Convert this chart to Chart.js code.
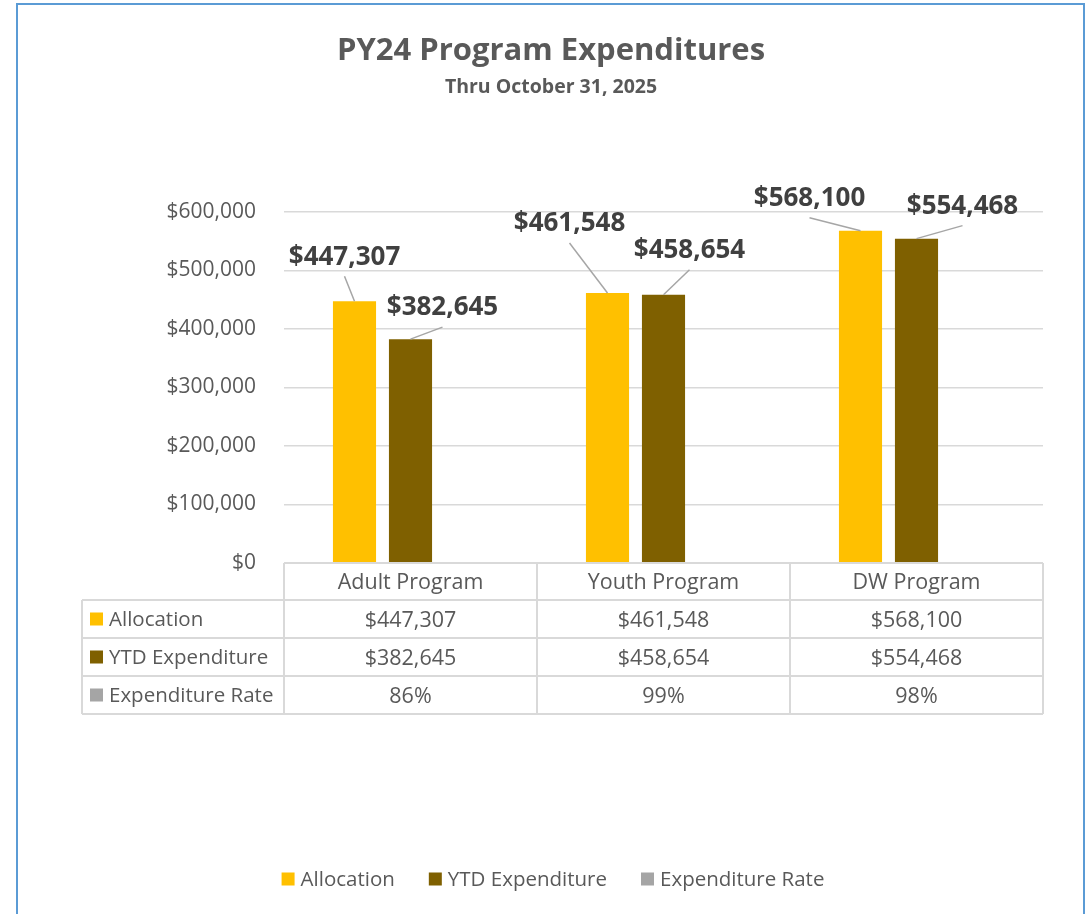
<!DOCTYPE html>
<html><head><meta charset="utf-8">
<script src="https://cdn.jsdelivr.net/npm/chart.js@4.4.1/dist/chart.umd.min.js"></script>
<style>html,body{margin:0;padding:0;background:#fff;}canvas{display:block;}</style>
</head><body>
<canvas id="c" width="1089" height="914"></canvas>
<script>
// ---- data ----
const categories = ['Adult Program', 'Youth Program', 'DW Program'];
const allocation = [447307, 461548, 568100];
const ytdExpenditure = [382645, 458654, 554468];
const expenditureRate = [0.86, 0.99, 0.98];
const seriesNames = ['Allocation', 'YTD Expenditure', 'Expenditure Rate'];
const yTickValues = [0, 100000, 200000, 300000, 400000, 500000, 600000];
const titleText = 'PY24 Program Expenditures';
const subtitleText = 'Thru October 31, 2025';

// ---- style ----
const colors = ['#FFC000', '#7F6000', '#A5A5A5'];
const FONT = '"Open Sans", "DejaVu Sans", sans-serif';
const TEXT = '#595959';
const LABEL = '#404040';
const GRID = '#D9D9D9';
// data label offsets [dx, dy] from bar-top centre, per dataset per category
const labelOffsets = [
  [[-10, -46], [-38, -71], [-51, -34]],
  [[32, -33], [26, -46], [46, -34]]
];

const money = v => '$' + Math.round(v).toLocaleString('en-US');
const pct = v => Math.round(v * 100) + '%';

function textAt(ctx, str, x, cy, size, weight, color, align) {
  ctx.font = weight + ' ' + size + 'px ' + FONT;
  ctx.fillStyle = color;
  ctx.textAlign = align || 'center';
  ctx.textBaseline = 'alphabetic';
  ctx.fillText(str, x, cy + size * 0.357);
}

const customPlugin = {
  id: 'custom',
  beforeDraw(chart) {
    const ctx = chart.ctx;
    ctx.save();
    ctx.strokeStyle = '#5B9BD5';
    ctx.lineWidth = 2;
    ctx.beginPath();
    ctx.moveTo(17, 914); ctx.lineTo(17, 4); ctx.lineTo(1084, 4); ctx.lineTo(1084, 914);
    ctx.stroke();
    textAt(ctx, titleText, 551, 49, 31, 'bold', TEXT);
    textAt(ctx, subtitleText, 551, 86, 19.5, 'bold', TEXT);
    ctx.restore();
  },
  afterDatasetsDraw(chart) {
    const ctx = chart.ctx;
    ctx.save();
    [0, 1].forEach(di => {
      const meta = chart.getDatasetMeta(di);
      meta.data.forEach((bar, i) => {
        const off = labelOffsets[di][i];
        const lx = bar.x + off[0], ly = bar.y + off[1];
        ctx.strokeStyle = '#A6A6A6';
        ctx.lineWidth = 1.5;
        ctx.beginPath();
        ctx.moveTo(lx, ly + 21);
        ctx.lineTo(bar.x, bar.y);
        ctx.stroke();
        textAt(ctx, money(chart.data.datasets[di].data[i]), lx, ly, 26, 'bold', LABEL);
      });
    });
    ctx.restore();
  },
  afterDraw(chart) {
    const ctx = chart.ctx;
    const a = chart.chartArea;
    const xs = chart.scales.x;
    const n = categories.length;
    const cw = (a.right - a.left) / n;
    const headH = 37, rowH = 38;
    const leftX = a.left - 202;
    const top = a.bottom;
    const rowsTop = top + headH;
    const bottom = rowsTop + rowH * 3;
    const fs = 21.5;
    ctx.save();
    ctx.strokeStyle = GRID;
    ctx.lineWidth = 2;
    ctx.beginPath();
    ctx.moveTo(a.left, top); ctx.lineTo(a.right, top);
    for (let r = 0; r <= 3; r++) {
      ctx.moveTo(leftX, rowsTop + r * rowH); ctx.lineTo(a.right, rowsTop + r * rowH);
    }
    for (let c = 0; c <= n; c++) {
      ctx.moveTo(a.left + c * cw, top); ctx.lineTo(a.left + c * cw, bottom);
    }
    ctx.moveTo(leftX, rowsTop); ctx.lineTo(leftX, bottom);
    ctx.stroke();

    const rows = [
      allocation.map(money),
      ytdExpenditure.map(money),
      expenditureRate.map(pct)
    ];
    categories.forEach((cat, i) => {
      const cx = xs.getPixelForValue(i);
      textAt(ctx, cat, cx, top + headH / 2, fs, 'normal', TEXT);
      rows.forEach((row, r) => {
        textAt(ctx, row[i], cx, rowsTop + r * rowH + rowH / 2, fs, 'normal', TEXT);
      });
    });
    seriesNames.forEach((name, r) => {
      const cy = rowsTop + r * rowH + rowH / 2;
      ctx.fillStyle = colors[r];
      ctx.fillRect(leftX + 8, cy - 6.5, 13, 13);
      textAt(ctx, name, leftX + 27, cy, 20.5, 'normal', TEXT, 'left');
    });

    // legend
    ctx.font = 'normal 20.5px ' + FONT;
    const widths = seriesNames.map(s => ctx.measureText(s).width);
    const total = widths.reduce((s, w) => s + 13 + 6 + w, 0) + 34 * (seriesNames.length - 1);
    let x = 553 - total / 2;
    const ly = 879;
    seriesNames.forEach((name, r) => {
      ctx.fillStyle = colors[r];
      ctx.fillRect(x, ly - 6.5, 13, 13);
      textAt(ctx, name, x + 19, ly, 20.5, 'normal', TEXT, 'left');
      x += 13 + 6 + widths[r] + 34;
    });
    ctx.restore();
  }
};

new Chart(document.getElementById('c'), {
  type: 'bar',
  data: {
    labels: categories,
    datasets: [
      { label: seriesNames[0], data: allocation, backgroundColor: colors[0] },
      { label: seriesNames[1], data: ytdExpenditure, backgroundColor: colors[1] },
      { label: seriesNames[2], data: expenditureRate, backgroundColor: colors[2] }
    ]
  },
  options: {
    responsive: false,
    devicePixelRatio: 1,
    animation: false,
    layout: { padding: { top: 212, right: 46, bottom: 351, left: 0 } },
    datasets: { bar: { categoryPercentage: 0.664, barPercentage: 0.77 } },
    plugins: { legend: { display: false }, title: { display: false }, tooltip: { enabled: false } },
    scales: {
      x: { display: false },
      y: {
        min: 0, max: 600000,
        afterFit(scale) { scale.width = 284; },
        afterBuildTicks(scale) { scale.ticks = yTickValues.map(v => ({ value: v })); },
        border: { display: false },
        grid: { color: GRID, lineWidth: 1.5, drawTicks: false },
        ticks: {
          padding: 28,
          color: TEXT,
          font: { family: FONT, size: 21 },
          callback: v => money(v)
        }
      }
    }
  },
  plugins: [customPlugin]
});
</script>
</body></html>
